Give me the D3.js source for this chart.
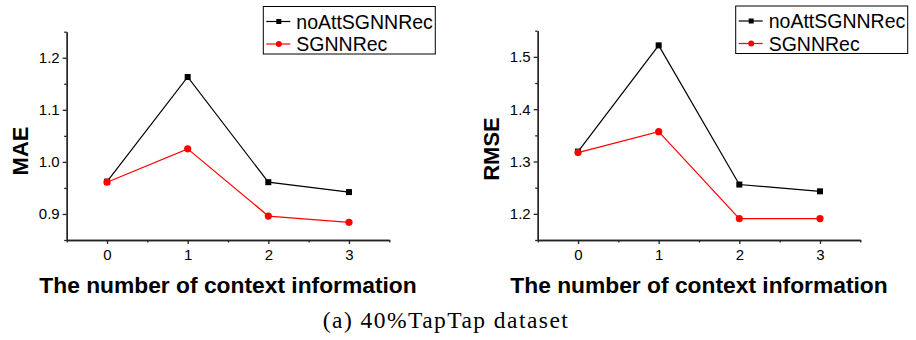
<!DOCTYPE html>
<html>
<head>
<meta charset="utf-8">
<script src="https://cdn.jsdelivr.net/npm/d3@7"></script>
<style>
  body { margin: 0; background: #fff; }
  text { font-family: "Liberation Sans", Arial, sans-serif; }
</style>
</head>
<body>
<div id="chart"></div>
<script>
// values
var contextCounts = [0, 1, 2, 3];
var seriesNames = ["noAttSGNNRec", "SGNNRec"];
var maeNoAtt = [0.962, 1.163, 0.961, 0.942];
var maeSgnn = [0.961, 1.025, 0.896, 0.884];
var rmseNoAtt = [1.319, 1.522, 1.256, 1.243];
var rmseSgnn = [1.317, 1.357, 1.191, 1.191];
var maeTicks = [0.9, 1.0, 1.1, 1.2];
var rmseTicks = [1.2, 1.3, 1.4, 1.5];
var xLabel = "The number of context information";
var caption = "(a) 40%TapTap dataset";

var svg = d3.select("#chart").append("svg")
    .attr("width", 916)
    .attr("height", 340);

var colors = ["#000000", "#ff0000"];

function drawPanel(opt) {
    var x = d3.scaleLinear().domain([-0.5, 3.5]).range([opt.left, opt.right]);
    var y = d3.scaleLinear().domain(opt.yDomain).range([opt.bottom, opt.top]);
    var g = svg.append("g");

    // minor ticks
    var xMinor = [-0.5, 0.5, 1.5, 2.5, 3.5];
    var yMinor = opt.yTicks.map(function(t) { return t - 0.05; }).concat([opt.yDomain[1]]);

    g.append("g")
        .attr("transform", "translate(0," + opt.bottom + ")")
        .call(d3.axisBottom(x).tickValues(xMinor).tickFormat("").tickSize(2.5).tickSizeOuter(0));
    g.append("g")
        .attr("transform", "translate(" + opt.left + ",0)")
        .call(d3.axisLeft(y).tickValues(yMinor).tickFormat("").tickSize(2.5).tickSizeOuter(0));

    var xAxis = g.append("g")
        .attr("transform", "translate(0," + opt.bottom + ")")
        .call(d3.axisBottom(x).tickValues(contextCounts).tickFormat(d3.format("d")).tickSize(4).tickPadding(5).tickSizeOuter(0));
    var yAxis = g.append("g")
        .attr("transform", "translate(" + opt.left + ",0)")
        .call(d3.axisLeft(y).tickValues(opt.yTicks).tickFormat(d3.format(".1f")).tickSize(4).tickPadding(3).tickSizeOuter(0));

    g.selectAll(".domain, .tick line").attr("stroke", "#222").attr("stroke-width", 1.3);
    xAxis.selectAll("text").style("font-size", "15px").attr("fill", "#000");
    yAxis.selectAll("text").style("font-size", "15px").attr("fill", "#000");

    // axis titles
    g.append("text")
        .attr("x", (opt.left + opt.right) / 2)
        .attr("y", 293)
        .attr("text-anchor", "middle")
        .style("font-size", "22.8px")
        .style("font-weight", "bold")
        .text(xLabel);
    g.append("text")
        .attr("transform", "translate(" + (opt.left - 39) + "," + opt.titleY + ") rotate(-90)")
        .attr("text-anchor", "middle")
        .style("font-size", "22px")
        .style("font-weight", "bold")
        .text(opt.yLabel);

    var line = d3.line()
        .x(function(d, i) { return x(contextCounts[i]); })
        .y(function(d) { return y(d); });

    opt.series.forEach(function(values, s) {
        g.append("path")
            .datum(values)
            .attr("d", line)
            .attr("fill", "none")
            .attr("stroke", colors[s])
            .attr("stroke-width", 1.2);
    });

    // markers: black squares, red circles
    g.selectAll(".sq")
        .data(opt.series[0])
        .enter().append("rect")
        .attr("x", function(d, i) { return x(contextCounts[i]) - 3; })
        .attr("y", function(d) { return y(d) - 3; })
        .attr("width", 6)
        .attr("height", 6)
        .attr("fill", colors[0]);
    g.selectAll(".dot")
        .data(opt.series[1])
        .enter().append("circle")
        .attr("cx", function(d, i) { return x(contextCounts[i]); })
        .attr("cy", function(d) { return y(d); })
        .attr("r", 3.6)
        .attr("fill", colors[1]);

    // legend
    var lg = g.append("g").attr("transform", "translate(" + opt.legendX + "," + opt.legendY + ")");
    lg.append("rect")
        .attr("width", 172)
        .attr("height", 47.5)
        .attr("fill", "#fff")
        .attr("stroke", "#000")
        .attr("stroke-width", 1);
    seriesNames.forEach(function(name, s) {
        var ry = 15 + s * 22.5;
        lg.append("line")
            .attr("x1", 3).attr("x2", 27)
            .attr("y1", ry).attr("y2", ry)
            .attr("stroke", colors[s])
            .attr("stroke-width", 1.2);
        if (s === 0) {
            lg.append("rect").attr("x", 13).attr("y", ry - 2.5).attr("width", 5).attr("height", 5).attr("fill", colors[s]);
        } else {
            lg.append("circle").attr("cx", 15.5).attr("cy", ry).attr("r", 3).attr("fill", colors[s]);
        }
        lg.append("text")
            .attr("x", 33)
            .attr("y", ry + 7)
            .style("font-size", "19.5px")
            .text(name);
    });
}

drawPanel({
    left: 66.7, right: 389.3, top: 31.7, bottom: 240,
    yDomain: [0.85, 1.25], yTicks: maeTicks, yLabel: "MAE", titleY: 151,
    series: [maeNoAtt, maeSgnn],
    legendX: 263.3, legendY: 6.5
});

drawPanel({
    left: 537.7, right: 860.3, top: 30.7, bottom: 240,
    yDomain: [1.15, 1.55], yTicks: rmseTicks, yLabel: "RMSE", titleY: 149,
    series: [rmseNoAtt, rmseSgnn],
    legendX: 735.7, legendY: 6
});

svg.append("text")
    .attr("x", 445.3)
    .attr("y", 328)
    .attr("text-anchor", "middle")
    .attr("textLength", 245)
    .attr("lengthAdjust", "spacing")
    .style("font-family", "'Liberation Serif', 'Times New Roman', serif")
    .style("font-size", "23.5px")
    .text(caption);
</script>
</body>
</html>
